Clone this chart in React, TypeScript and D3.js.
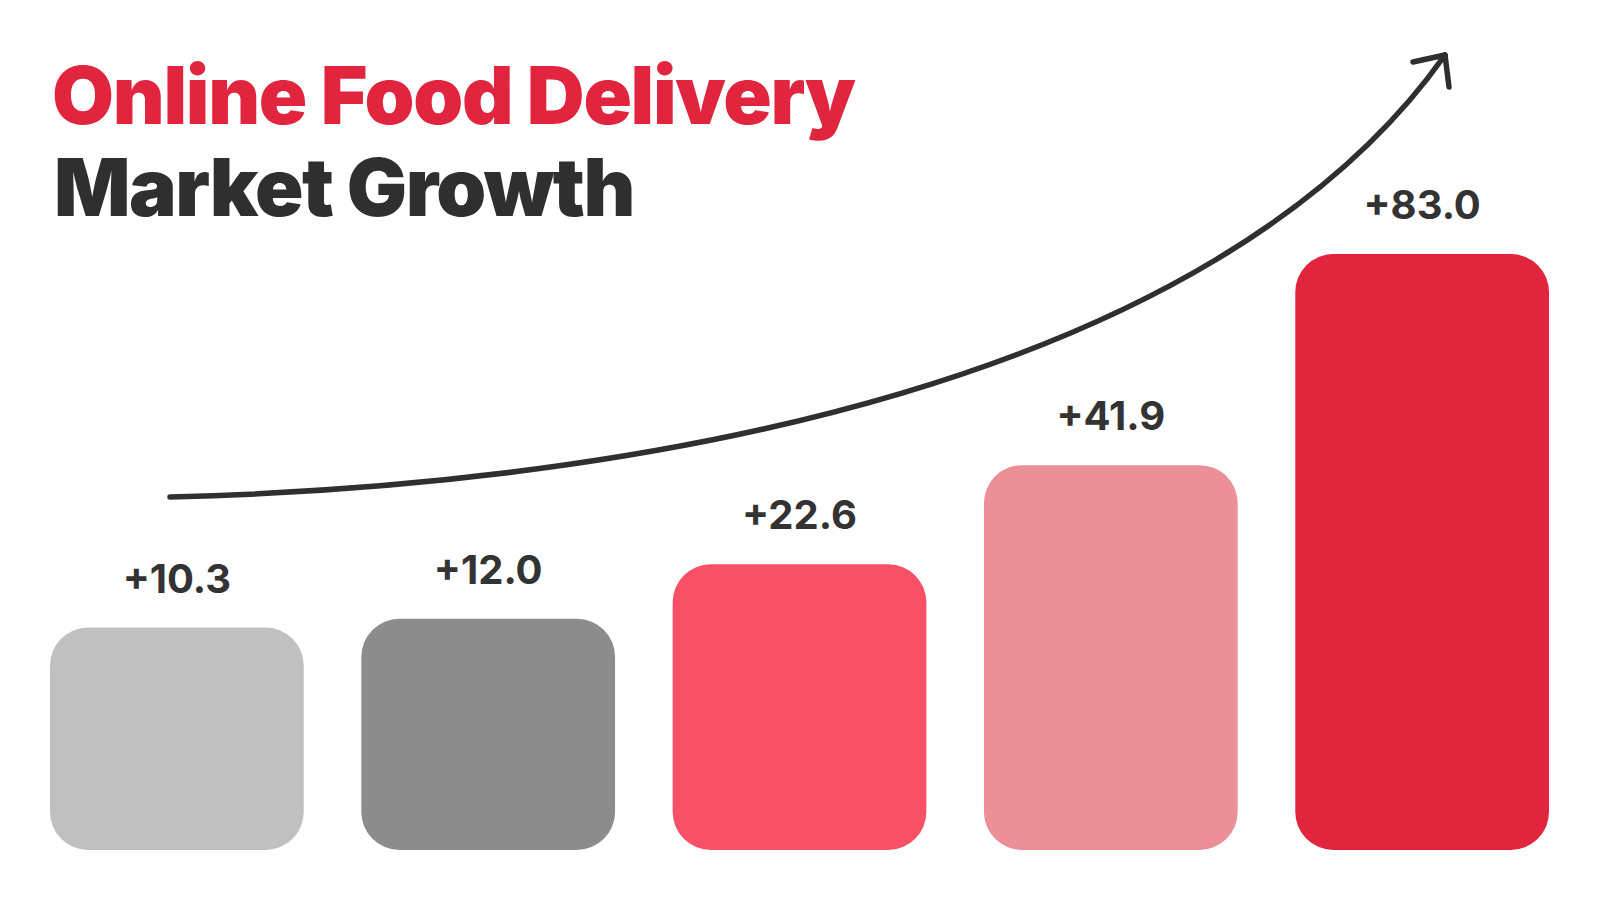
import { useMemo } from "react";
import * as d3 from "d3";

// values
const growthValues = [10.3, 12.0, 22.6, 41.9, 83.0];
const barColors = ["#c0c0c0", "#8c8c8c", "#f85166", "#eb8f99", "#e1253e"];
const titleLines = ["Online Food Delivery", "Market Growth"];

const width = 1600;
const height = 900;
const baseline = 850;
const barTop = 254;
const fontStack = "Inter, 'Noto Sans', 'DejaVu Sans', sans-serif";

export default function App() {
    const x = useMemo(
        () =>
            d3.scaleBand<number>()
                .domain(d3.range(growthValues.length))
                .range([50, 1549])
                .paddingInner(0.185)
                .paddingOuter(0),
        []
    );

    // the bars in the picture start from a lifted baseline, not from zero
    const y = useMemo(
        () => d3.scaleLinear().domain([-33, d3.max(growthValues) as number]).range([baseline, barTop]),
        []
    );

    // growth arrow over the bars
    const arrow = d3.path();
    arrow.moveTo(170, 497);
    arrow.bezierCurveTo(650, 485, 1215, 380, 1445, 55);
    const head = d3.line()([
        [1413, 62],
        [1445, 55],
        [1449, 87],
    ]);

    return (
        <svg
            width={width}
            height={height}
            viewBox={`0 0 ${width} ${height}`}
            style={{ position: "absolute", left: 0, top: 0, background: "#fff" }}
        >
            <text x={52} y={124} fill="#e1253e" fontFamily={fontStack} fontWeight={900} fontSize={80} letterSpacing={-1.3}>
                {titleLines[0]}
            </text>
            <text x={54} y={216} fill="#2f2f2f" fontFamily={fontStack} fontWeight={900} fontSize={80} letterSpacing={-1.5}>
                {titleLines[1]}
            </text>

            {growthValues.map((v, i) => (
                <g key={i}>
                    <rect
                        x={x(i)}
                        y={y(v)}
                        width={x.bandwidth()}
                        height={baseline - y(v)}
                        rx={38}
                        ry={38}
                        fill={barColors[i]}
                    />
                    <text
                        x={(x(i) as number) + x.bandwidth() / 2}
                        y={y(v) - 35}
                        textAnchor="middle"
                        fill="#333"
                        fontFamily={fontStack}
                        fontWeight={700}
                        fontSize={40}
                    >
                        {"+" + d3.format(".1f")(v)}
                    </text>
                </g>
            ))}

            <path d={arrow.toString()} fill="none" stroke="#2f2f2f" strokeWidth={5.5} strokeLinecap="round" />
            <path
                d={head ?? ""}
                fill="none"
                stroke="#2f2f2f"
                strokeWidth={5.5}
                strokeLinecap="round"
                strokeLinejoin="round"
            />
        </svg>
    );
}
